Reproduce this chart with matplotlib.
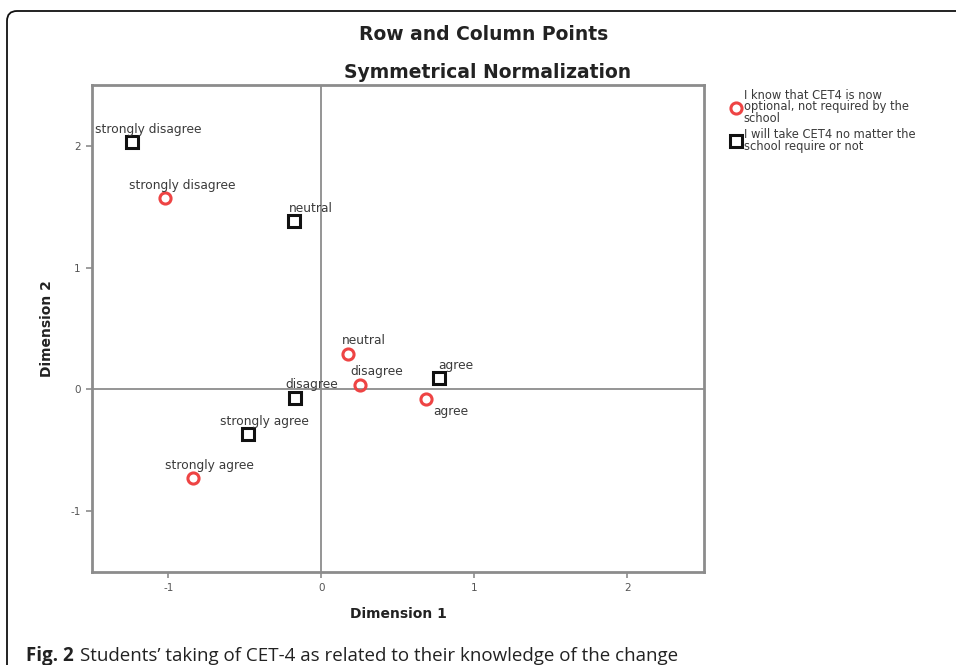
import numpy as np
import matplotlib
matplotlib.use('Agg')
import matplotlib.pyplot as plt
from matplotlib.patches import FancyBboxPatch
import matplotlib.transforms as mtransforms

plt.rcParams['axes.unicode_minus'] = False

# answer categories
categories = ['strongly disagree', 'disagree', 'neutral', 'agree', 'strongly agree']

# row points: "I know that CET4 is now optional, not required by the school"
know_x = [-1.02, 0.25, 0.17, 0.68, -0.84]
know_y = [1.57, 0.04, 0.29, -0.08, -0.73]

# column points: "I will take CET4 no matter the school require or not"
take_x = [-1.24, -0.17, -0.18, 0.77, -0.48]
take_y = [2.03, -0.07, 1.38, 0.09, -0.37]

know_label = 'I know that CET4 is now\noptional, not required by the\nschool'
take_label = 'I will take CET4 no matter the\nschool require or not'

x_ticks = [-1, 0, 1, 2]
y_ticks = [-1, 0, 1, 2]

W, H = 956, 665
fig = plt.figure(figsize=(W / 100, H / 100), dpi=100)
ax = fig.add_axes([92 / W, 1 - 572 / H, (704 - 92) / W, (572 - 85) / H])

grey = '#8c8c8c'
red = '#ee4444'
txt = '#3a3a3a'

ax.set_xlim(-1.5, 2.5)
ax.set_ylim(-1.5, 2.5)
ax.axhline(0, color=grey, lw=1.3, zorder=1)
ax.axvline(0, color=grey, lw=1.3, zorder=1)

ax.plot(know_x, know_y, 'o', ls='none', ms=8, mfc='none', mec=red, mew=2.2,
        zorder=3, label=know_label)
ax.plot(take_x, take_y, 's', ls='none', ms=8, mfc='none', mec='#111111', mew=2.2,
        zorder=3, label=take_label)

# point labels, mostly above and a bit right of the marker
for i, c in enumerate(categories):
    t = ax.annotate(c, (take_x[i], take_y[i]), xytext=(12, 9.5), textcoords='offset points',
                    ha='center', va='center', fontsize=8.8, color=txt)
    t.set_clip_on(True)
for i, c in enumerate(categories):
    off = (18, -9) if c == 'agree' else (12, 9.5)
    t = ax.annotate(c, (know_x[i], know_y[i]), xytext=off, textcoords='offset points',
                    ha='center', va='center', fontsize=8.8, color=txt)
    t.set_clip_on(True)

ax.set_xticks(x_ticks)
ax.set_yticks(y_ticks)
ax.tick_params(direction='out', length=4, width=1.2, color=grey, labelsize=7.5,
               labelcolor='#555555', pad=4)
for s in ax.spines.values():
    s.set_color(grey)
    s.set_linewidth(2)

ax.set_xlabel('Dimension 1', fontsize=10, fontweight='bold', color='#222222', labelpad=10)
ax.set_ylabel('Dimension 2', fontsize=10, fontweight='bold', color='#222222', labelpad=12)

fig.text(484 / W, 1 - 35 / H, 'Row and Column Points', ha='center', va='center',
         fontsize=13.5, fontweight='bold', color='#222222')
fig.text(488 / W, 1 - 72 / H, 'Symmetrical Normalization', ha='center', va='center',
         fontsize=13.5, fontweight='bold', color='#222222')

leg = ax.legend(loc='upper left', bbox_to_anchor=(727 / W, 1 - 83 / H),
                bbox_transform=fig.transFigure, frameon=False, fontsize=8.3,
                handlelength=0.6, handletextpad=0.35, labelspacing=0.3, borderpad=0)
for t in leg.get_texts():
    t.set_linespacing(0.85)
    t.set_color(txt)

# rounded frame around the figure
frame = FancyBboxPatch((7, -60), 1100, H - 11 + 60, boxstyle='round,pad=0,rounding_size=10',
                       transform=mtransforms.IdentityTransform(), fill=False,
                       ec='#111111', lw=1.3)
fig.patches.append(frame)

# caption
fig.canvas.draw()
r = fig.canvas.get_renderer()
c1 = fig.text(26 / W, 1 - 661 / H, 'Fig. 2', ha='left', va='baseline', fontsize=13.5,
              fontweight='bold', family=['Open Sans', 'DejaVu Sans'], color='#222222')
bb = c1.get_window_extent(renderer=r)
fig.text((bb.x1 + 6) / W, 1 - 661 / H,
         'Students\u2019 taking of CET-4 as related to their knowledge of the change',
         ha='left', va='baseline', fontsize=13.5, family=['Open Sans', 'DejaVu Sans'],
         color='#222222')

fig.savefig('out.png', dpi=100)
